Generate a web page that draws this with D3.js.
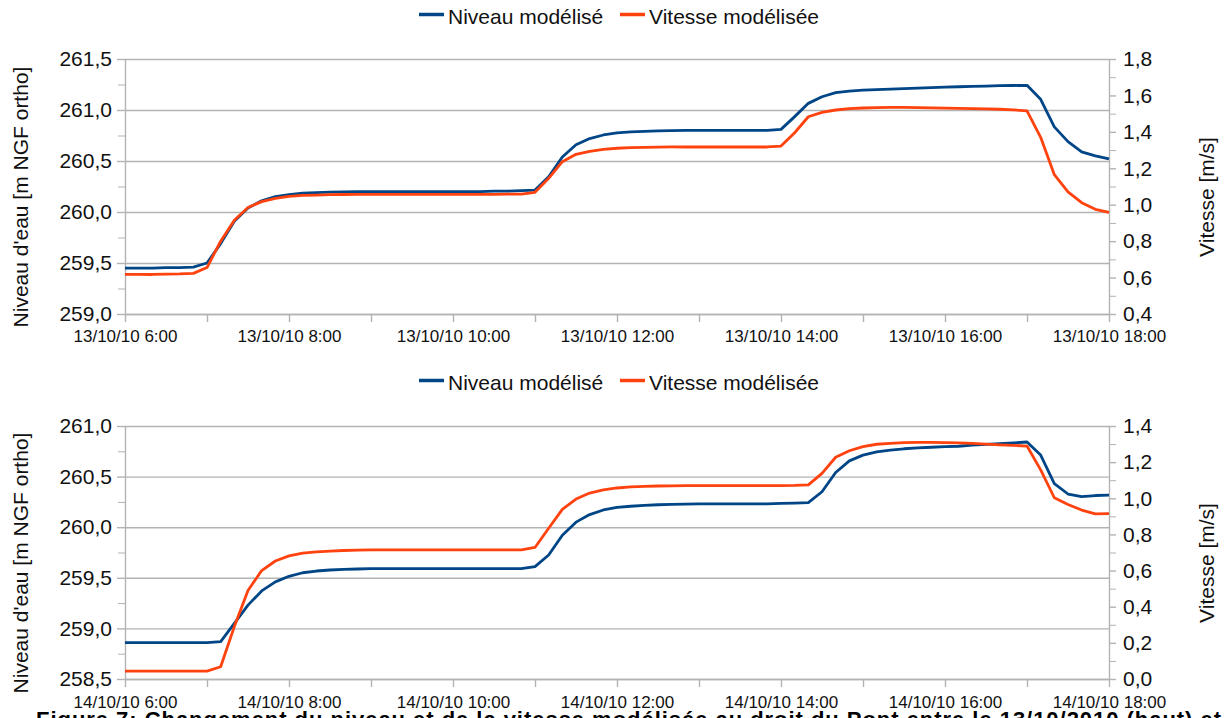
<!DOCTYPE html>
<html lang="fr">
<head>
<meta charset="utf-8">
<title>Niveau et vitesse modélisés</title>
<script src="https://d3js.org/d3.v7.min.js"></script>
<style>
  body { margin: 0; background: #fff; }
  svg { font-family: "Liberation Sans", Arial, sans-serif; }
</style>
</head>
<body>
<svg width="1229" height="718"></svg>
<script>

// one value every 10 minutes, from 6:00 to 18:00
var niveau13 = [
  259.45, 259.45, 259.45, 259.455, 259.455, 259.46,    // 6h
  259.50, 259.69, 259.91, 260.04, 260.11, 260.15,      // 7h
  260.17, 260.185, 260.19, 260.195, 260.197, 260.20,   // 8h
  260.20, 260.20, 260.20, 260.20, 260.20, 260.20,      // 9h
  260.20, 260.20, 260.20, 260.205, 260.205, 260.21,    // 10h
  260.215, 260.345, 260.54, 260.66, 260.72, 260.755,   // 11h
  260.775, 260.785, 260.79, 260.795, 260.797, 260.80,  // 12h
  260.80, 260.80, 260.80, 260.80, 260.80, 260.80,      // 13h
  260.81, 260.935, 261.065, 261.13, 261.17, 261.185,   // 14h
  261.195, 261.20, 261.205, 261.21, 261.215, 261.22,   // 15h
  261.225, 261.228, 261.232, 261.235, 261.238, 261.24, // 16h
  261.242, 261.105, 260.835, 260.69, 260.59, 260.55,   // 17h
  260.52
];
var vitesse13 = [
  0.618, 0.617, 0.617, 0.619, 0.620, 0.623,
  0.655, 0.800, 0.915, 0.985, 1.017, 1.035,
  1.046, 1.051, 1.053, 1.055, 1.056, 1.057,
  1.057, 1.057, 1.057, 1.057, 1.057, 1.057,
  1.057, 1.057, 1.057, 1.057, 1.058, 1.058,
  1.068, 1.145, 1.236, 1.277, 1.293, 1.304,
  1.310, 1.313, 1.315, 1.316, 1.317, 1.317,
  1.317, 1.317, 1.317, 1.317, 1.317, 1.317,
  1.322, 1.395, 1.483, 1.507, 1.520, 1.527,
  1.531, 1.533, 1.534, 1.534, 1.533, 1.532,
  1.530, 1.529, 1.527, 1.526, 1.524, 1.521,
  1.515, 1.370, 1.165, 1.071, 1.011, 0.975,
  0.958
];
var niveau14 = [
  258.86, 258.86, 258.86, 258.86, 258.86, 258.86,
  258.86, 258.87, 259.05, 259.23, 259.37, 259.46,
  259.515, 259.55, 259.567, 259.577, 259.583, 259.587,
  259.59, 259.59, 259.59, 259.59, 259.59, 259.59,
  259.59, 259.59, 259.59, 259.59, 259.59, 259.59,
  259.61, 259.725, 259.92, 260.05, 260.125, 260.17,
  260.195, 260.207, 260.215, 260.222, 260.225, 260.228,
  260.23, 260.23, 260.23, 260.23, 260.23, 260.23,
  260.235, 260.238, 260.242, 260.35, 260.54, 260.655,
  260.712, 260.745, 260.762, 260.775, 260.783, 260.79,
  260.796, 260.80, 260.81, 260.818, 260.826, 260.833,
  260.842, 260.713, 260.43, 260.328, 260.303, 260.313,
  260.316
];
var vitesse14 = [
  0.044, 0.044, 0.044, 0.044, 0.044, 0.044,
  0.044, 0.068, 0.290, 0.490, 0.600, 0.653,
  0.681, 0.696, 0.704, 0.708, 0.711, 0.713,
  0.714, 0.714, 0.714, 0.714, 0.714, 0.714,
  0.714, 0.714, 0.714, 0.714, 0.714, 0.714,
  0.728, 0.834, 0.939, 0.996, 1.029, 1.046,
  1.057, 1.063, 1.066, 1.068, 1.069, 1.070,
  1.070, 1.070, 1.070, 1.070, 1.070, 1.070,
  1.070, 1.071, 1.074, 1.138, 1.227, 1.263,
  1.286, 1.299, 1.304, 1.308, 1.309, 1.309,
  1.308, 1.307, 1.304, 1.300, 1.296, 1.293,
  1.289, 1.157, 1.003, 0.966, 0.935, 0.914,
  0.915
];

var heures = [6, 7, 8, 9, 10, 11, 12, 13, 14, 15, 16, 17, 18];
var heuresLabel = [6, 8, 10, 12, 14, 16, 18];

var niveauTicks13 = [259.0, 259.5, 260.0, 260.5, 261.0, 261.5];
var niveauMinor13 = [259.25, 259.75, 260.25, 260.75, 261.25];
var vitesseTicks13 = [0.4, 0.6, 0.8, 1.0, 1.2, 1.4, 1.6, 1.8];
var niveauTicks14 = [258.5, 259.0, 259.5, 260.0, 260.5, 261.0];
var niveauMinor14 = [258.75, 259.25, 259.75, 260.25, 260.75];
var vitesseTicks14 = [0.0, 0.2, 0.4, 0.6, 0.8, 1.0, 1.2, 1.4];

var series = ["Niveau modélisé", "Vitesse modélisée"];
var colors = ["#004586", "#ff420e"];

var svg = d3.select("svg");
var fr = d3.formatLocale({decimal: ",", thousands: "\u00a0", grouping: [3], currency: ["", " €"]});
var fmt = fr.format(".1f");
var FONT = "Liberation Sans, Arial, sans-serif";

var left = 125, right = 1109;
var x = d3.scaleLinear().domain([6, 18]).range([left, right]);

function hourOf(i) { return 6 + i / 6; }

// d3.axis sets font-size/family on call, so style afterwards
function styleAxis(a, size) {
  a.attr("font-size", size).attr("font-family", FONT);
  a.select(".domain").attr("stroke-width", 1.4);
  a.selectAll("line").attr("stroke-width", 1.4);
  a.selectAll("text").attr("fill", "#111");
}

function panel(o) {
  var y = d3.scaleLinear().domain(o.yDomain).range([o.bottom, o.top]);
  var y2 = d3.scaleLinear().domain(o.y2Domain).range([o.bottom, o.top]);
  var g = svg.append("g");

  // grid lines from the left axis
  g.append("g")
      .attr("transform", "translate(" + left + ",0)")
      .attr("color", "#b3b3b3")
      .call(d3.axisLeft(y).tickValues(o.yTicks).tickSize(-(right - left)).tickFormat(""))
      .call(function(a) { a.select(".domain").remove(); a.selectAll("line").attr("stroke-width", 1.4); });

  // left minor ticks
  g.append("g")
      .attr("transform", "translate(" + left + ",0)")
      .attr("color", "#b3b3b3")
      .call(d3.axisLeft(y).tickValues(o.yMinor).tickSize(7).tickFormat(""))
      .call(function(a) { a.select(".domain").remove(); });

  // left axis
  g.append("g")
      .attr("transform", "translate(" + left + ",0)")
      .attr("color", "#b3b3b3")
      .call(d3.axisLeft(y).tickValues(o.yTicks).tickSize(8).tickPadding(5).tickSizeOuter(0).tickFormat(fmt))
      .call(styleAxis, 21);

  // right axis (ticks every 0.1)
  var minor2 = [];
  for (var k = 0; k < o.y2Ticks.length - 1; k++) minor2.push((o.y2Ticks[k] + o.y2Ticks[k + 1]) / 2);
  g.append("g")
      .attr("transform", "translate(" + right + ",0)")
      .attr("color", "#b3b3b3")
      .call(d3.axisRight(y2).tickValues(minor2).tickSize(7).tickFormat(""))
      .call(function(a) { a.select(".domain").remove(); });
  g.append("g")
      .attr("transform", "translate(" + right + ",0)")
      .attr("color", "#b3b3b3")
      .call(d3.axisRight(y2).tickValues(o.y2Ticks).tickSize(7).tickPadding(7).tickSizeOuter(0).tickFormat(fmt))
      .call(styleAxis, 21);

  // x axis
  g.append("g")
      .attr("transform", "translate(0," + o.bottom + ")")
      .attr("color", "#b3b3b3")
      .call(d3.axisBottom(x).tickValues(heures).tickSize(8).tickPadding(o.xPad).tickSizeOuter(0)
          .tickFormat(function(h) { return heuresLabel.indexOf(h) >= 0 ? o.day + " " + h + ":00" : ""; }))
      .call(styleAxis, 17);

  // series
  var lineL = d3.line().x(function(d, i) { return x(hourOf(i)); }).y(function(d) { return y(d); });
  var lineR = d3.line().x(function(d, i) { return x(hourOf(i)); }).y(function(d) { return y2(d); });
  g.append("path").attr("d", lineL(o.niveau)).attr("fill", "none")
      .attr("stroke", colors[0]).attr("stroke-width", 2.8).attr("stroke-linejoin", "round");
  g.append("path").attr("d", lineR(o.vitesse)).attr("fill", "none")
      .attr("stroke", colors[1]).attr("stroke-width", 2.8).attr("stroke-linejoin", "round");

  // axis titles
  g.append("text")
      .attr("transform", "translate(28," + o.titleY + ") rotate(-90)")
      .attr("text-anchor", "middle").attr("font-size", 21).attr("fill", "#111")
      .text("Niveau d'eau [m NGF ortho]");
  g.append("text")
      .attr("transform", "translate(1214," + o.titleY + ") rotate(-90)")
      .attr("text-anchor", "middle").attr("font-size", 21).attr("fill", "#111")
      .text("Vitesse [m/s]");

  // legend
  var lx = [419, 620];
  series.forEach(function(s, i) {
    g.append("line").attr("x1", lx[i]).attr("x2", lx[i] + 25)
        .attr("y1", o.legendY - 9.5).attr("y2", o.legendY - 9.5)
        .attr("stroke", colors[i]).attr("stroke-width", 3.5);
    g.append("text").attr("x", lx[i] + 29).attr("y", o.legendY)
        .attr("font-size", 21).attr("fill", "#111").text(s);
  });
}

panel({
  top: 59, bottom: 314,
  yDomain: [259, 261.5], yTicks: niveauTicks13, yMinor: niveauMinor13,
  y2Domain: [0.4, 1.8], y2Ticks: vitesseTicks13,
  niveau: niveau13, vitesse: vitesse13,
  day: "13/10/10", xPad: 8, titleY: 197, legendY: 24
});

panel({
  top: 426, bottom: 679,
  yDomain: [258.5, 261], yTicks: niveauTicks14, yMinor: niveauMinor14,
  y2Domain: [0, 1.4], y2Ticks: vitesseTicks14,
  niveau: niveau14, vitesse: vitesse14,
  day: "14/10/10", xPad: 9, titleY: 563, legendY: 390
});

// figure caption, cut by the bottom edge as in the scanned page
svg.append("text")
    .attr("x", 36).attr("y", 727)
    .attr("font-size", 22).attr("font-weight", "bold").attr("fill", "#000")
    .attr("textLength", 1185).attr("lengthAdjust", "spacing")
    .text("Figure 7: Changement du niveau et de la vitesse modélisée au droit du Pont entre le 13/10/2010 (haut) et");

</script>
</body>
</html>
